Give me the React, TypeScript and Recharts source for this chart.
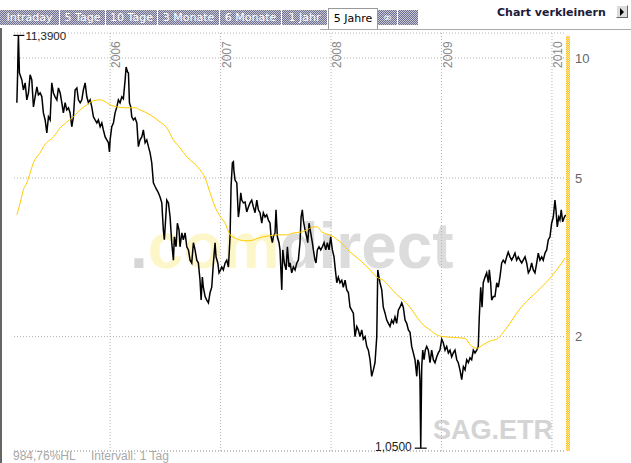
import React from "react";
import {
  LineChart,
  Line,
  XAxis,
  YAxis,
  CartesianGrid,
  ReferenceLine,
  ReferenceDot,
} from "recharts";

// daily closes (decimal years)
const priceDates = [
  2005.156, 2005.163, 2005.167, 2005.170, 2005.179, 2005.201, 2005.215, 2005.231, 2005.246, 2005.261,
  2005.276, 2005.291, 2005.306, 2005.321, 2005.337, 2005.351, 2005.367, 2005.382, 2005.396, 2005.412,
  2005.427, 2005.442, 2005.457, 2005.472, 2005.487, 2005.502, 2005.518, 2005.532, 2005.548, 2005.563,
  2005.577, 2005.593, 2005.608, 2005.623, 2005.638, 2005.653, 2005.668, 2005.683, 2005.699, 2005.713,
  2005.729, 2005.744, 2005.758, 2005.774, 2005.789, 2005.804, 2005.819, 2005.834, 2005.849, 2005.864,
  2005.880, 2005.894, 2005.910, 2005.925, 2005.939, 2005.955, 2005.970, 2005.985, 2005.994, 2006.000,
  2006.015, 2006.030, 2006.045, 2006.061, 2006.075, 2006.090, 2006.106, 2006.120, 2006.136, 2006.145,
  2006.157, 2006.166, 2006.175, 2006.187, 2006.196, 2006.211, 2006.226, 2006.242, 2006.256, 2006.271,
  2006.287, 2006.301, 2006.317, 2006.332, 2006.347, 2006.362, 2006.377, 2006.392, 2006.407, 2006.423,
  2006.437, 2006.452, 2006.468, 2006.482, 2006.491, 2006.504, 2006.513, 2006.528, 2006.543, 2006.558,
  2006.573, 2006.582, 2006.597, 2006.609, 2006.624, 2006.633, 2006.649, 2006.663, 2006.679, 2006.694,
  2006.709, 2006.724, 2006.739, 2006.754, 2006.769, 2006.785, 2006.799, 2006.814, 2006.824, 2006.835,
  2006.844, 2006.860, 2006.875, 2006.890, 2006.905, 2006.920, 2006.935, 2006.950, 2006.959, 2006.975,
  2006.986, 2007.000, 2007.011, 2007.025, 2007.041, 2007.056, 2007.071, 2007.086, 2007.095, 2007.107,
  2007.116, 2007.120, 2007.131, 2007.147, 2007.161, 2007.170, 2007.183, 2007.192, 2007.206, 2007.222,
  2007.237, 2007.252, 2007.267, 2007.282, 2007.297, 2007.312, 2007.328, 2007.342, 2007.357, 2007.373,
  2007.387, 2007.403, 2007.418, 2007.433, 2007.448, 2007.457, 2007.469, 2007.478, 2007.493, 2007.502,
  2007.514, 2007.529, 2007.538, 2007.554, 2007.563, 2007.577, 2007.593, 2007.605, 2007.620, 2007.629,
  2007.644, 2007.659, 2007.674, 2007.690, 2007.704, 2007.719, 2007.729, 2007.740, 2007.749, 2007.765,
  2007.780, 2007.789, 2007.801, 2007.816, 2007.831, 2007.840, 2007.855, 2007.864, 2007.876, 2007.891,
  2007.907, 2007.921, 2007.937, 2007.952, 2007.967, 2007.982, 2007.997, 2008.012, 2008.027, 2008.039,
  2008.052, 2008.066, 2008.081, 2008.097, 2008.111, 2008.127, 2008.142, 2008.157, 2008.172, 2008.187,
  2008.202, 2008.217, 2008.233, 2008.247, 2008.262, 2008.278, 2008.292, 2008.308, 2008.323, 2008.338,
  2008.353, 2008.368, 2008.383, 2008.398, 2008.414, 2008.423, 2008.434, 2008.443, 2008.459, 2008.473,
  2008.489, 2008.504, 2008.519, 2008.534, 2008.549, 2008.564, 2008.579, 2008.594, 2008.609, 2008.624,
  2008.640, 2008.654, 2008.670, 2008.685, 2008.700, 2008.715, 2008.730, 2008.745, 2008.760, 2008.776,
  2008.785, 2008.796, 2008.805, 2008.812, 2008.821, 2008.830, 2008.842, 2008.853, 2008.866, 2008.881,
  2008.896, 2008.911, 2008.926, 2008.941, 2008.957, 2008.971, 2008.986, 2009.002, 2009.016, 2009.032,
  2009.047, 2009.062, 2009.077, 2009.092, 2009.107, 2009.122, 2009.138, 2009.152, 2009.167, 2009.183,
  2009.198, 2009.213, 2009.228, 2009.243, 2009.258, 2009.273, 2009.288, 2009.303, 2009.319, 2009.333,
  2009.342, 2009.355, 2009.367, 2009.378, 2009.394, 2009.409, 2009.424, 2009.433, 2009.445, 2009.454,
  2009.469, 2009.484, 2009.500, 2009.514, 2009.529, 2009.545, 2009.559, 2009.575, 2009.590, 2009.604,
  2009.620, 2009.635, 2009.650, 2009.665, 2009.680, 2009.695, 2009.710, 2009.726, 2009.740, 2009.756,
  2009.771, 2009.786, 2009.801, 2009.816, 2009.831, 2009.846, 2009.862, 2009.876, 2009.891, 2009.907,
  2009.921, 2009.937, 2009.952, 2009.967, 2009.982, 2009.997, 2010.012, 2010.027, 2010.036, 2010.048,
  2010.061, 2010.072, 2010.084, 2010.097, 2010.109, 2010.124,
];

const priceValues = [
  7.72, 9.17, 10.59, 11.39, 9.17, 8.81, 8.31, 8.66, 7.85, 8.17,
  9.07, 8.81, 7.54, 7.99, 8.46, 8.08, 8.17, 7.99, 7.28, 6.99,
  6.49, 7.12, 6.99, 8.66, 8.17, 7.99, 7.85, 8.41, 8.17, 7.72,
  7.28, 7.72, 7.41, 7.5, 7.28, 6.72, 7.12, 8.31, 8.41, 7.85,
  7.72, 7.85, 8.31, 8.66, 7.99, 7.72, 7.85, 7.54, 7.12, 6.99,
  6.87, 6.99, 6.72, 6.87, 6.6, 6.34, 6.23, 6.13, 5.81, 6.23,
  6.72, 6.87, 7.28, 7.54, 7.85, 7.72, 7.99, 7.9, 8.81, 9.49,
  9.23, 9.17, 7.72, 7.54, 7.12, 6.99, 7.07, 6.87, 5.99, 6.23,
  6.34, 6.6, 6.13, 6.23, 5.99, 5.78, 5.46, 4.86, 4.76, 4.67,
  4.59, 4.48, 4.33, 3.7, 3.5, 3.99, 4.4, 4.33, 3.99, 3.44,
  3.11, 3.56, 3.36, 3.85, 3.7, 3.36, 3.64, 3.5, 3.64, 3.36,
  3.3, 3.11, 3.06, 3.44, 3.3, 3.11, 3.06, 2.77, 2.47, 2.82,
  2.66, 2.52, 2.47, 2.43, 2.58, 2.66, 3.06, 3.44, 3.17, 3.06,
  2.89, 2.94, 2.99, 2.94, 3.06, 3.11, 2.99, 3.56, 4.76, 5.46,
  5.49, 5.24, 4.94, 4.86, 3.99, 4.16, 4.59, 4.4, 4.33, 4.35,
  4.11, 4.23, 4.33, 4.4, 4.23, 4.09, 4.4, 4.16, 4.09, 3.85,
  4.09, 3.99, 4.04, 3.92, 3.85, 3.56, 3.44, 3.56, 3.64, 4.16,
  3.56, 3.44, 3.3, 2.62, 3.3, 3.06, 2.94, 3.36, 2.99, 3.06,
  2.89, 2.99, 2.94, 3.06, 3.11, 3.44, 3.99, 4.16, 3.92, 3.7,
  3.56, 3.44, 3.85, 3.64, 3.44, 3.3, 3.11, 3.06, 3.3, 3.36,
  3.3, 3.36, 3.44, 3.3, 3.44, 3.3, 3.56, 3.3, 3.17, 2.94,
  2.73, 2.82, 2.73, 2.77, 2.66, 2.77, 2.62, 2.58, 2.37, 2.33,
  2.29, 2.0, 2.12, 2.08, 2.0, 2.08, 1.97, 2.0, 1.89, 1.85,
  1.75, 1.59, 1.65, 1.72, 2.0, 2.94, 2.82, 2.73, 2.62, 2.37,
  2.29, 2.2, 2.16, 2.12, 2.2, 2.16, 2.24, 2.16, 2.33, 2.37,
  2.43, 2.37, 2.2, 2.16, 2.08, 2.05, 1.89, 1.82, 1.75, 1.59,
  1.75, 1.72, 1.56, 1.05, 1.68, 1.85, 1.75, 1.85, 1.89, 1.85,
  1.72, 1.85, 1.75, 1.72, 1.78, 1.82, 1.85, 1.97, 1.93, 1.85,
  1.89, 1.82, 1.85, 1.78, 1.82, 1.85, 1.75, 1.72, 1.65, 1.56,
  1.68, 1.65, 1.75, 1.72, 1.77, 1.75, 1.85, 1.82, 1.85, 1.89,
  2.24, 2.66, 2.37, 2.73, 2.82, 2.89, 2.73, 2.94, 2.73, 2.47,
  2.52, 2.52, 2.73, 2.66, 2.82, 3.06, 3.11, 3.06, 3.17, 3.26,
  3.17, 3.11, 3.17, 3.24, 3.11, 3.17, 3.11, 3.06, 3.11, 3.17,
  3.06, 2.89, 2.94, 3.06, 2.94, 2.89, 3.06, 3.24, 3.11, 3.17,
  3.11, 3.24, 3.3, 3.5, 3.56, 3.85, 3.99, 4.4, 4.16, 3.77,
  3.99, 3.92, 4.16, 3.88, 3.97, 4.04,
];

// moving average (yellow)
const avgDates = [
  2005.156, 2005.186, 2005.215, 2005.246, 2005.276, 2005.306, 2005.337, 2005.367, 2005.396, 2005.427,
  2005.487, 2005.548, 2005.608, 2005.668, 2005.729, 2005.789, 2005.849, 2005.910, 2005.939, 2006.000,
  2006.061, 2006.136, 2006.226, 2006.271, 2006.362, 2006.452, 2006.513, 2006.573, 2006.633, 2006.694,
  2006.754, 2006.814, 2006.860, 2006.905, 2006.950, 2007.000, 2007.041, 2007.086, 2007.147, 2007.206,
  2007.267, 2007.328, 2007.387, 2007.448, 2007.509, 2007.599, 2007.659, 2007.735, 2007.795, 2007.840,
  2007.876, 2007.916, 2007.961, 2008.021, 2008.081, 2008.172, 2008.262, 2008.353, 2008.414, 2008.473,
  2008.534, 2008.594, 2008.654, 2008.715, 2008.776, 2008.835, 2008.896, 2008.957, 2009.016, 2009.107,
  2009.213, 2009.258, 2009.319, 2009.378, 2009.439, 2009.500, 2009.559, 2009.620, 2009.680, 2009.740,
  2009.801, 2009.862, 2009.921, 2009.982, 2010.042, 2010.088, 2010.118,
];

const avgValues = [
  4.04, 4.33, 4.67, 4.86, 5.15, 5.46, 5.65, 5.78, 5.99, 6.13,
  6.34, 6.68, 6.91, 7.12, 7.41, 7.63, 7.81, 7.85, 7.81, 7.63,
  7.54, 7.5, 7.5, 7.41, 7.2, 6.91, 6.68, 6.23, 5.95, 5.65,
  5.46, 5.24, 5.0, 4.59, 4.23, 3.99, 3.85, 3.6, 3.52, 3.48,
  3.48, 3.52, 3.56, 3.58, 3.6, 3.6, 3.64, 3.66, 3.72, 3.77,
  3.77, 3.66, 3.62, 3.56, 3.46, 3.26, 3.11, 2.94, 2.82, 2.77,
  2.66, 2.55, 2.47, 2.37, 2.24, 2.14, 2.08, 2.02, 2.0, 1.99,
  1.98, 1.91, 1.87, 1.91, 1.95, 1.97, 2.05, 2.16, 2.29, 2.4,
  2.5, 2.59, 2.69, 2.8, 2.94, 3.06, 3.15,
];

const YEARS = [2006, 2007, 2008, 2009, 2010];
const PRICE_TICKS = [2, 5, 10];
const TABS = ["Intraday", "5 Tage", "10 Tage", "3 Monate", "6 Monate", "1 Jahr", "5 Jahre", "∞"];
const TAB_EDGES = [0, 60, 106, 158, 220, 282, 328, 378, 398];

const priceData = priceDates.map((t, i) => ({ t, v: priceValues[i] }));
const avgData = avgDates.map((t, i) => ({ t, v: avgValues[i] }));

const maxIdx = priceValues.indexOf(Math.max(...priceValues));
const minIdx = priceValues.indexOf(Math.min(...priceValues));
const fmt = (v: number) => v.toFixed(4).replace(".", ",");

const SANS = "'Liberation Sans', Arial, sans-serif";
const TAB_FONT = "'DejaVu Sans', Verdana, sans-serif";

const checker = "repeating-conic-gradient(#6f6f96 0 25%, #c6c6cf 0 50%) 0 0 / 2px 2px";

function YearLabel(props: any) {
  const { viewBox, year } = props;
  if (!viewBox) return null;
  const x = viewBox.x + 10;
  const y = viewBox.y + 35;
  return (
    <text
      x={x}
      y={y}
      transform={`rotate(-90 ${x} ${y})`}
      fill="#888"
      fontSize={12}
      fontFamily={SANS}
    >
      {year}
    </text>
  );
}

function MaxMark(props: any) {
  const { cx, cy } = props;
  return (
    <g>
      <line x1={cx - 5} x2={cx + 6} y1={cy} y2={cy} stroke="#000" strokeWidth={1.2} />
      <text x={cx + 7} y={cy + 5} fontSize={11.5} fill="#222" fontFamily={SANS}>
        {fmt(priceValues[maxIdx])}
      </text>
    </g>
  );
}

function MinMark(props: any) {
  const { cx, cy } = props;
  return (
    <g>
      <line x1={cx - 6} x2={cx + 6} y1={cy} y2={cy} stroke="#000" strokeWidth={1.2} />
      <text x={cx - 9} y={cy + 3} fontSize={12} fill="#222" textAnchor="end" fontFamily={SANS}>
        {fmt(priceValues[minIdx])}
      </text>
    </g>
  );
}

export default function App() {
  return (
    <div
      style={{
        position: "absolute",
        left: 0,
        top: 0,
        width: 631,
        height: 463,
        background: "#fff",
        overflow: "hidden",
      }}
    >
      {/* tab bar */}
      <div style={{ position: "absolute", left: 0, top: 10, width: 418, height: 15, background: checker }} />
      {TABS.map((label, i) => {
        const selected = label === "5 Jahre";
        const left = TAB_EDGES[i];
        const width = TAB_EDGES[i + 1] - left - 1;
        return (
          <div
            key={label}
            style={{
              position: "absolute",
              left,
              top: selected ? 8 : 10,
              width: selected ? width - 1 : width,
              height: selected ? 20 : 15,
              lineHeight: selected ? "19px" : "15px",
              background: selected ? "#fff" : "transparent",
              border: selected ? "1px solid #999" : "none",
              borderBottom: "none",
              borderRight: selected ? "1px solid #999" : "1px solid #fff",
              textAlign: "center",
              color: selected ? "#000" : "#fff",
              fontFamily: TAB_FONT,
              fontSize: 11,
              whiteSpace: "nowrap",
            }}
          >
            {label}
          </div>
        );
      })}
      <div style={{ position: "absolute", left: 320, top: 29, width: 311, height: 1, background: "#aaa" }} />
      <div
        style={{
          position: "absolute",
          left: 497,
          top: 6,
          lineHeight: "13px",
          fontFamily: TAB_FONT,
          fontSize: 11,
          fontWeight: "bold",
          color: "#1c1c3a",
          whiteSpace: "nowrap",
        }}
      >
        Chart verkleinern
      </div>
      <div
        style={{
          position: "absolute",
          left: 616,
          top: 5,
          width: 10,
          height: 11,
          background: "#dcdcdc",
          borderTop: "1px solid #fff",
          borderLeft: "1px solid #fff",
          borderRight: "1px solid #666",
          borderBottom: "1px solid #666",
        }}
      >
        <div
          style={{
            position: "absolute",
            left: 3,
            top: 2,
            width: 0,
            height: 0,
            borderLeft: "4px solid #000",
            borderTop: "4px solid transparent",
            borderBottom: "4px solid transparent",
          }}
        />
      </div>
      <div style={{ position: "absolute", left: 0, top: 28, width: 2, height: 435, background: "#666" }} />

      {/* watermark and footer */}
      <svg width={631} height={463} style={{ position: "absolute", left: 0, top: 0 }}>
        <text x={130} y={268} fontSize={64} fontWeight="bold" fontFamily={SANS}>
          <tspan fill="#d6d6d6">.</tspan>
          <tspan fill="#fcf6c8">com</tspan>
          <tspan fill="#dcdcdc">direct</tspan>
        </text>
        <text x={433} y={439} fontSize={27} fontWeight="bold" fill="#d4d4d4" fontFamily={SANS}>
          SAG.ETR
        </text>
        <text x={13} y={460} fontSize={12} fill="#a8a8a8" fontFamily={SANS}>
          984,76%HL
        </text>
        <text x={91} y={460} fontSize={12} fill="#a8a8a8" fontFamily={SANS}>
          Intervall: 1 Tag
        </text>
      </svg>

      <div
        style={{
          position: "absolute",
          left: 566,
          top: 36,
          width: 4,
          height: 415,
          background: "repeating-conic-gradient(#ffc629 0 25%, #ffe6a0 0 50%) 0 0 / 2px 2px",
        }}
      />

      <div style={{ position: "absolute", left: 0, top: 0 }}>
        <LineChart width={631} height={463} margin={{ top: 33, right: 15, bottom: 0, left: 14 }}>
          <CartesianGrid vertical={false} stroke="#b4b4b4" strokeDasharray="1 2" />
          <XAxis
            type="number"
            dataKey="t"
            domain={[2005.13, 2010.127]}
            allowDataOverflow
            ticks={YEARS}
            tick={false}
            tickLine={false}
            axisLine={{ stroke: "#aaa", strokeDasharray: "1 2" }}
            height={12}
          />
          <YAxis
            orientation="right"
            scale="log"
            domain={[1.033, 11.55]}
            allowDataOverflow
            ticks={PRICE_TICKS}
            tickFormatter={(v) => String(v)}
            tick={{ fill: "#666", fontSize: 13, fontFamily: SANS }}
            tickLine={false}
            axisLine={false}
            tickMargin={3}
            width={50}
          />
          {YEARS.map((y) => (
            <ReferenceLine
              key={y}
              x={y}
              stroke="#b4b4b4"
              strokeDasharray="1 2"
              label={<YearLabel year={y} />}
            />
          ))}
          <Line
            data={priceData}
            dataKey="v"
            type="linear"
            stroke="#000"
            strokeWidth={1.5}
            dot={false}
            isAnimationActive={false}
          />
          <Line
            data={avgData}
            dataKey="v"
            type="monotone"
            stroke="#ffcc00"
            strokeWidth={1}
            dot={false}
            isAnimationActive={false}
          />
          <ReferenceDot
            x={priceDates[maxIdx]}
            y={priceValues[maxIdx]}
            shape={<MaxMark />}
          />
          <ReferenceDot
            x={priceDates[minIdx]}
            y={priceValues[minIdx]}
            shape={<MinMark />}
          />
        </LineChart>
      </div>
    </div>
  );
}
